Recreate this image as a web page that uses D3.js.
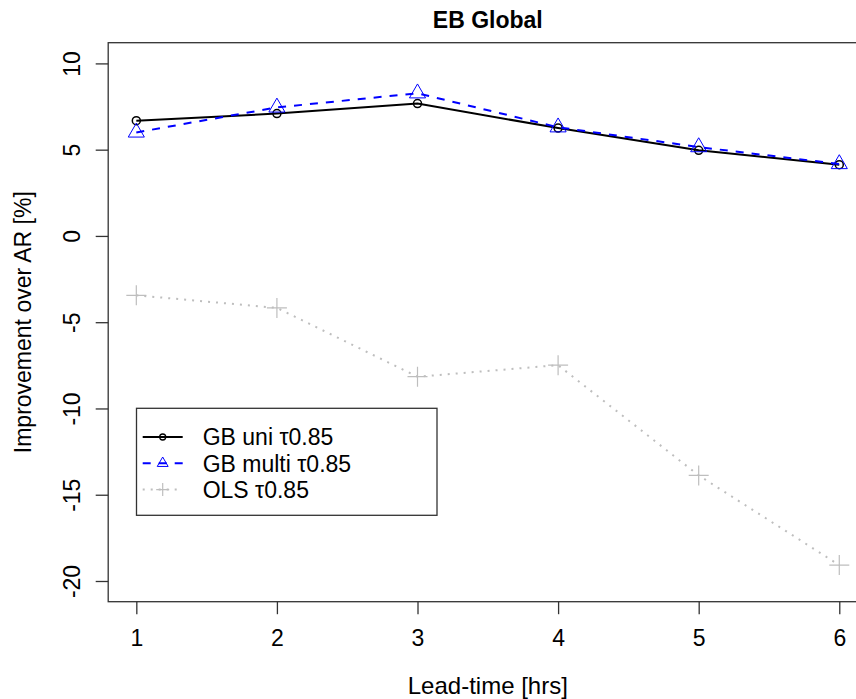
<!DOCTYPE html>
<html>
<head>
<meta charset="utf-8">
<script src="https://cdn.jsdelivr.net/npm/d3@7"></script>
<style>
  body { margin: 0; background: #fff; }
  svg { display: block; font-family: "Liberation Sans", Arial, Helvetica, sans-serif; }
</style>
</head>
<body>
<div id="chart"></div>
<script>
// values
var leadTime = [1, 2, 3, 4, 5, 6];
var gbUni   = [6.68, 7.09, 7.67, 6.25, 4.96, 4.13];
var gbMulti = [6.0, 7.45, 8.27, 6.3, 5.15, 4.17];
var ols     = [-3.44, -4.17, -8.16, -7.49, -13.88, -19.08];
var yTicks  = [-20, -15, -10, -5, 0, 5, 10];
var seriesNames = ["GB uni \u03c40.85", "GB multi \u03c40.85", "OLS \u03c40.85"];

var width = 856, height = 699;
var fontSize = 23;

var svg = d3.select("#chart").append("svg")
  .attr("width", width)
  .attr("height", height);

svg.append("rect")
  .attr("width", width)
  .attr("height", height)
  .attr("fill", "#fff");

// R style: xlim 1..6 +4%, ylim -20..10 +4%  (right edge falls outside the picture)
var x = d3.scaleLinear().domain([0.8, 6.2]).range([108.2, 867.4]);
var y = d3.scaleLinear().domain([-21.2, 11.2]).range([601.7, 42.7]);

function drawCircle(g, cx, cy, r, sw) {
  g.append("circle")
    .attr("cx", cx).attr("cy", cy).attr("r", r)
    .attr("fill", "none")
    .attr("stroke", "#000")
    .attr("stroke-width", sw);
}
function drawTriangle(g, cx, cy, r) {
  var hx = r * Math.sqrt(3) / 2;
  g.append("path")
    .attr("d", "M" + cx + "," + (cy - r) + "L" + (cx + hx) + "," + (cy + r / 2) + "L" + (cx - hx) + "," + (cy + r / 2) + "Z")
    .attr("fill", "none")
    .attr("stroke", "#0000ff")
    .attr("stroke-width", 1);
}
function drawPlus(g, cx, cy, h) {
  g.append("path")
    .attr("d", "M" + (cx - h) + "," + cy + "H" + (cx + h) + "M" + cx + "," + (cy - h) + "V" + (cy + h))
    .attr("fill", "none")
    .attr("stroke", "#bebebe")
    .attr("stroke-width", 1.2);
}

var line = d3.line()
  .x(function(d) { return x(d.x); })
  .y(function(d) { return y(d.y); });

function pairs(vals) {
  return leadTime.map(function(t, i) { return {x: t, y: vals[i]}; });
}

// series
var plot = svg.append("g");

plot.append("path")
  .datum(pairs(ols))
  .attr("d", line)
  .attr("fill", "none")
  .attr("stroke", "#bebebe")
  .attr("stroke-width", 2)
  .attr("stroke-dasharray", "2,6");
pairs(ols).forEach(function(d) { drawPlus(plot, x(d.x), y(d.y), 10); });

plot.append("path")
  .datum(pairs(gbUni))
  .attr("d", line)
  .attr("fill", "none")
  .attr("stroke", "#000")
  .attr("stroke-width", 2);
pairs(gbUni).forEach(function(d) { drawCircle(plot, x(d.x), y(d.y), 4, 1.5); });

plot.append("path")
  .datum(pairs(gbMulti))
  .attr("d", line)
  .attr("fill", "none")
  .attr("stroke", "#0000ff")
  .attr("stroke-width", 2)
  .attr("stroke-dasharray", "8,8");
pairs(gbMulti).forEach(function(d) { drawTriangle(plot, x(d.x), y(d.y), 9.3); });

// box
svg.append("rect")
  .attr("x", x.range()[0])
  .attr("y", y.range()[1])
  .attr("width", x.range()[1] - x.range()[0])
  .attr("height", y.range()[0] - y.range()[1])
  .attr("fill", "none")
  .attr("stroke", "#333")
  .attr("stroke-width", 1.3);

// R prints a plain hyphen for negatives
function plainNum(d) { return String(d); }

// x axis
var xAxis = svg.append("g")
  .attr("transform", "translate(0," + y.range()[0] + ")")
  .call(d3.axisBottom(x).tickValues(leadTime).tickSize(12.5).tickFormat(plainNum));
xAxis.select(".domain").remove();
xAxis.selectAll(".tick line").attr("stroke", "#333").attr("stroke-width", 1.3);
xAxis.selectAll(".tick text")
  .attr("y", 44).attr("dy", 0)
  .attr("fill", "#000")
  .style("font-size", fontSize + "px")
  .style("font-family", "Liberation Sans, Arial, sans-serif");

// y axis, labels parallel to the axis like R
var yAxis = svg.append("g")
  .attr("transform", "translate(" + x.range()[0] + ",0)")
  .call(d3.axisLeft(y).tickValues(yTicks).tickSize(12.5).tickFormat(plainNum));
yAxis.select(".domain").remove();
yAxis.selectAll(".tick line").attr("stroke", "#333").attr("stroke-width", 1.3);
yAxis.selectAll(".tick text")
  .attr("x", 0).attr("y", -28.5).attr("dy", 0)
  .attr("transform", "rotate(-90)")
  .attr("text-anchor", "middle")
  .attr("fill", "#000")
  .style("font-size", fontSize + "px")
  .style("font-family", "Liberation Sans, Arial, sans-serif");

var midX = (x.range()[0] + x.range()[1]) / 2;
var midY = (y.range()[0] + y.range()[1]) / 2;

svg.append("text")
  .attr("x", midX).attr("y", 28)
  .attr("text-anchor", "middle")
  .attr("font-weight", "bold")
  .style("font-size", "23px")
  .text("EB Global");

svg.append("text")
  .attr("x", midX).attr("y", 694)
  .attr("text-anchor", "middle")
  .style("font-size", "24px")
  .text("Lead-time [hrs]");

svg.append("text")
  .attr("transform", "translate(31," + midY + ") rotate(-90)")
  .attr("text-anchor", "middle")
  .style("font-size", fontSize + "px")
  .text("Improvement over AR [%]");

// legend
var legend = svg.append("g");
legend.append("rect")
  .attr("x", 136.5).attr("y", 408.3)
  .attr("width", 300.5).attr("height", 107)
  .attr("fill", "#fff")
  .attr("stroke", "#333")
  .attr("stroke-width", 1.3);

var legendStyles = [
  {stroke: "#000", dash: null},
  {stroke: "#0000ff", dash: "8,8"},
  {stroke: "#bebebe", dash: "2,6"}
];
seriesNames.forEach(function(name, i) {
  var ry = 437 + i * 26.3;
  legend.append("line")
    .attr("x1", 142.7).attr("x2", 182.7)
    .attr("y1", ry).attr("y2", ry)
    .attr("stroke", legendStyles[i].stroke)
    .attr("stroke-width", 2)
    .attr("stroke-dasharray", legendStyles[i].dash);
  if (i == 0) drawCircle(legend, 162.7, ry, 3, 1.3);
  if (i == 1) drawTriangle(legend, 162.7, ry, 6.3);
  if (i == 2) drawPlus(legend, 162.7, ry, 6.5);
  legend.append("text")
    .attr("x", 202.7).attr("y", ry)
    .attr("dy", "0.36em")
    .style("font-size", fontSize + "px")
    .text(name);
});
</script>
</body>
</html>
